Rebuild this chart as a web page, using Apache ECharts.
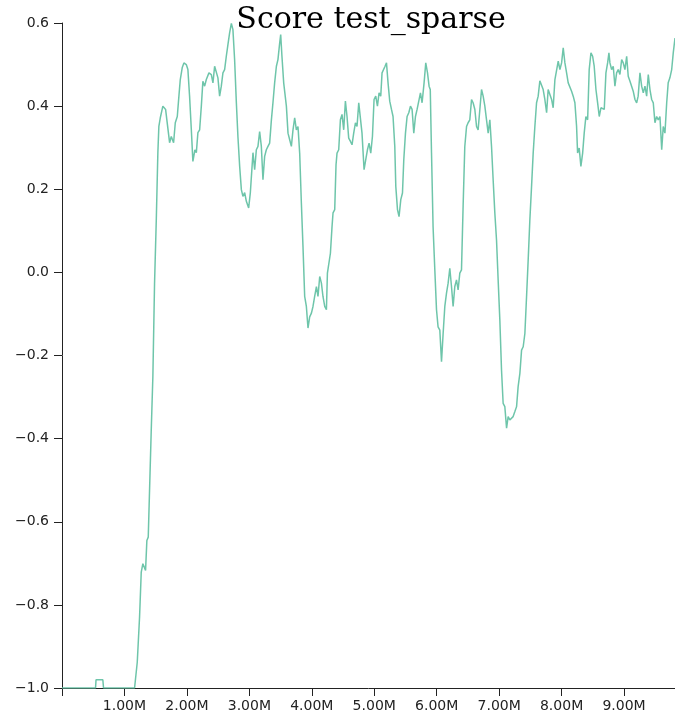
<!DOCTYPE html>
<html>
<head>
<meta charset="utf-8">
<script src="https://cdn.jsdelivr.net/npm/echarts@6/dist/echarts.min.js"></script>
<style>
html,body{margin:0;padding:0;background:#fff;}
#chart{width:675px;height:717px;}
</style>
</head>
<body>
<div id="chart"></div>
<script>
// Steps (in millions) and score values
const steps = [
0,0.537,0.545,0.654,0.665,1.162,1.205,1.242,1.269,1.295,1.338,1.359,1.381,1.402,1.429,1.455,1.482,1.510,1.535,1.551,1.574,
1.615,1.659,1.679,1.723,1.750,1.787,1.814,1.846,1.872,1.894,1.926,1.952,1.990,2.016,2.043,2.071,2.096,2.128,2.151,2.176,
2.204,2.231,2.256,2.284,2.311,2.353,2.391,2.417,2.444,2.471,2.497,2.524,2.551,2.577,2.604,2.631,2.657,2.684,2.712,2.737,
2.764,2.792,2.817,2.845,2.872,2.897,2.925,2.952,2.989,3.016,3.037,3.058,3.085,3.112,3.138,3.165,3.192,3.218,3.245,3.272,
3.298,3.325,3.353,3.378,3.405,3.433,3.458,3.486,3.502,3.522,3.550,3.571,3.593,3.619,3.646,3.673,3.699,3.726,3.753,3.779,
3.806,3.833,3.859,3.886,3.913,3.939,3.966,3.994,4.019,4.046,4.074,4.099,4.127,4.154,4.179,4.207,4.234,4.250,4.276,4.298,
4.324,4.340,4.367,4.388,4.404,4.431,4.458,4.484,4.511,4.538,4.564,4.591,4.619,4.644,4.671,4.699,4.724,4.752,4.779,4.804,
4.837,4.864,4.891,4.917,4.944,4.971,4.997,5.024,5.051,5.077,5.104,5.125,5.152,5.173,5.196,5.221,5.248,5.276,5.301,5.329,
5.345,5.372,5.397,5.425,5.452,5.473,5.500,5.526,5.553,5.580,5.606,5.633,5.660,5.686,5.713,5.740,5.766,5.798,5.825,5.853,
5.878,5.897,5.917,5.942,5.970,5.997,6.022,6.050,6.077,6.103,6.130,6.157,6.183,6.210,6.237,6.263,6.290,6.317,6.343,6.370,
6.397,6.423,6.450,6.478,6.503,6.530,6.558,6.583,6.611,6.638,6.663,6.691,6.718,6.744,6.771,6.798,6.824,6.851,6.878,6.904,
6.931,6.958,6.984,7.011,7.038,7.064,7.091,7.119,7.144,7.171,7.199,7.224,7.252,7.279,7.304,7.332,7.359,7.385,7.412,7.439,
7.465,7.492,7.519,7.545,7.572,7.599,7.625,7.652,7.679,7.705,7.732,7.760,7.785,7.812,7.840,7.865,7.893,7.920,7.946,7.973,
8.000,8.026,8.053,8.080,8.106,8.133,8.160,8.186,8.213,8.240,8.256,8.282,8.309,8.337,8.362,8.389,8.417,8.442,8.470,8.497,
8.522,8.550,8.577,8.603,8.630,8.657,8.683,8.710,8.737,8.758,8.774,8.801,8.827,8.854,8.881,8.907,8.934,8.962,8.987,9.014,
9.042,9.067,9.095,9.122,9.147,9.175,9.202,9.226,9.255,9.282,9.308,9.335,9.362,9.388,9.415,9.442,9.468,9.495,9.522,9.548,
9.575,9.603,9.628,9.655,9.683,9.707,9.734,9.763,9.788,9.816
];
const scores = [
-1.0,-1.0,-0.980,-0.980,-1.0,-1.0,-0.938,-0.829,-0.721,-0.701,-0.717,-0.645,-0.637,-0.524,-0.380,-0.251,-0.026,0.127,0.288,0.351,0.372,
0.400,0.392,0.367,0.312,0.327,0.312,0.360,0.375,0.424,0.464,0.493,0.504,0.500,0.488,0.424,0.343,0.267,0.295,0.288,0.336,
0.343,0.400,0.460,0.448,0.464,0.480,0.476,0.456,0.496,0.493,0.468,0.424,0.448,0.480,0.488,0.520,0.548,0.576,0.599,0.584,
0.512,0.408,0.327,0.255,0.199,0.183,0.192,0.171,0.155,0.192,0.240,0.288,0.247,0.295,0.303,0.339,0.303,0.223,0.279,0.295,
0.303,0.311,0.367,0.408,0.456,0.496,0.512,0.552,0.572,0.520,0.456,0.460,0.400,0.335,0.319,0.303,0.343,0.372,0.343,0.351,
0.287,0.167,0.062,-0.058,-0.082,-0.134,-0.107,-0.098,-0.082,-0.058,-0.034,-0.058,-0.010,-0.026,-0.058,-0.082,-0.090,-0.002,-0.002,0.046,
0.110,0.143,0.151,0.259,0.287,0.295,0.367,0.380,0.343,0.412,0.375,0.323,0.315,0.307,0.335,0.360,0.351,0.408,0.412,0.335,
0.247,0.271,0.295,0.311,0.287,0.327,0.416,0.424,0.400,0.432,0.424,0.480,0.476,0.496,0.504,0.456,0.412,0.392,0.375,0.303,
0.207,0.151,0.134,0.175,0.191,0.271,0.335,0.375,0.384,0.400,0.392,0.335,0.375,0.392,0.392,0.432,0.408,0.456,0.504,0.480,
0.448,0.440,0.288,0.110,0.006,-0.090,-0.131,-0.139,-0.215,-0.147,-0.082,-0.050,-0.026,0.010,-0.034,-0.082,-0.034,-0.018,-0.042,-0.002,
0.006,0.159,0.303,0.351,0.360,0.367,0.416,0.408,0.392,0.351,0.343,0.392,0.440,0.424,0.400,0.367,0.335,0.367,0.303,0.223,
0.143,0.078,-0.018,-0.114,-0.235,-0.315,-0.323,-0.375,-0.347,-0.355,-0.351,-0.347,-0.335,-0.323,-0.275,-0.243,-0.187,-0.179,-0.147,-0.058,
0.030,0.127,0.207,0.287,0.351,0.408,0.424,0.461,0.464,0.440,0.416,0.384,0.440,0.436,0.416,0.396,0.464,0.468,0.508,0.488,
0.504,0.540,0.504,0.480,0.456,0.460,0.436,0.424,0.408,0.351,0.287,0.299,0.255,0.287,0.335,0.375,0.367,0.488,0.528,0.520,
0.496,0.440,0.408,0.375,0.396,0.396,0.392,0.480,0.504,0.528,0.504,0.488,0.496,0.448,0.480,0.488,0.476,0.512,0.504,0.488,
0.520,0.472,0.460,0.464,0.436,0.416,0.408,0.424,0.480,0.448,0.432,0.448,0.424,0.476,0.440,0.416,0.408,0.360,0.375,0.367,
0.375,0.295,0.351,0.335,0.408,0.456,0.468,0.488,0.528,0.564
];
const xTickValues = [0,1,2,3,4,5,6,7,8,9];
const xLabelValues = [1,2,3,4,5,6,7,8,9];
const yTickValues = [-1.0,-0.8,-0.6,-0.4,-0.2,0.0,0.2,0.4,0.6];
const titleText = 'Score test_sparse';

const data = steps.map((s, i) => [s, scores[i]]);
const chart = echarts.init(document.getElementById('chart'), null, {renderer: 'canvas'});
const axisColor = '#222';
chart.setOption({
  animation: false,
  backgroundColor: '#fff',
  title: {
    text: titleText,
    left: 371,
    top: 5,
    padding: 0,
    textAlign: 'center',
    textStyle: {fontFamily: 'DejaVu Serif', fontSize: 30, fontWeight: 'normal', color: '#000'}
  },
  grid: {left: 62, right: 0, top: 23, bottom: 29, containLabel: false},
  xAxis: {
    type: 'value',
    min: 0,
    max: steps[steps.length - 1],
    interval: 1,
    splitLine: {show: false},
    axisLine: {show: true, onZero: false, lineStyle: {color: axisColor, width: 1}},
    axisTick: {show: true, length: 8, customValues: xTickValues, lineStyle: {color: axisColor}},
    axisLabel: {
      customValues: xLabelValues,
      margin: 11,
      fontFamily: 'DejaVu Sans', fontSize: 14, color: '#222',
      formatter: v => v.toFixed(2) + 'M'
    }
  },
  yAxis: {
    type: 'value',
    min: -1.0,
    max: 0.6,
    interval: 0.2,
    splitLine: {show: false},
    axisLine: {show: true, onZero: false, lineStyle: {color: axisColor, width: 1}},
    axisTick: {show: true, length: 8, customValues: yTickValues, lineStyle: {color: axisColor}},
    axisLabel: {
      customValues: yTickValues,
      margin: 13,
      fontFamily: 'DejaVu Sans', fontSize: 14, color: '#222',
      formatter: v => (Math.abs(v) < 1e-9 ? 0 : v).toFixed(1).replace('-', '\u2212')
    }
  },
  series: [{
    type: 'line',
    data: data,
    showSymbol: false,
    symbol: 'none',
    clip: true,
    lineStyle: {color: '#66c2a5', width: 1.5, opacity: 0.95},
    emphasis: {disabled: true}
  }]
});
</script>
</body>
</html>
